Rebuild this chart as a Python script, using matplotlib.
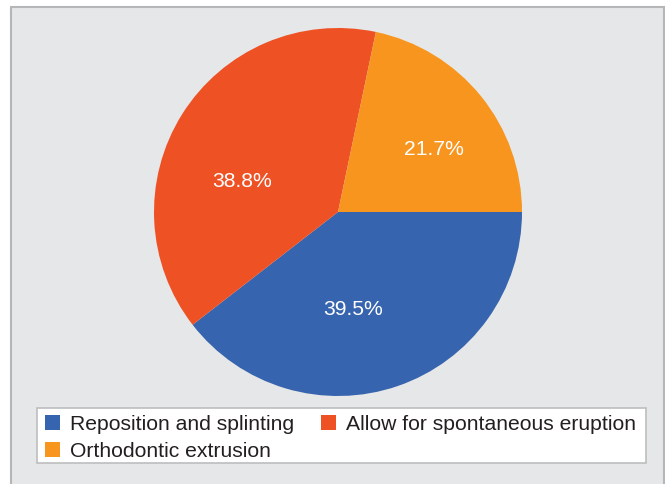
import matplotlib
matplotlib.use("Agg")
import matplotlib.pyplot as plt
from matplotlib.patches import Rectangle, Patch

# Treatment shares (%)
categories = ["Reposition and splinting", "Allow for spontaneous eruption", "Orthodontic extrusion"]
shares = [39.5, 38.8, 21.7]
colors = ["#3764AE", "#EE5124", "#F7951F"]

# label anchors in units of the pie radius
label_xy = [(0.08, -0.53), (-0.52, 0.165), (0.52, 0.34)]

plt.rcParams["font.family"] = ["Liberation Sans", "DejaVu Sans"]

W, H = 665, 484
fig = plt.figure(figsize=(W / 100, H / 100), dpi=100)
fig.patch.set_facecolor("white")

# grey panel with border
fig.patches.append(Rectangle((11 / W, -0.05), (664 - 11) / W, 1.05 - 7 / H,
                             transform=fig.transFigure, facecolor="#E6E7E8",
                             edgecolor="#B5B6B8", linewidth=1.5, zorder=-2))
# legend box
fig.patches.append(Rectangle((37 / W, 1 - 463 / H), (646 - 37) / W, (463 - 408) / H,
                             transform=fig.transFigure, facecolor="white",
                             edgecolor="#BCBEC0", linewidth=1.2, zorder=-1))

cx, cy, r = 338, 212, 184
ax = fig.add_axes([(cx - r) / W, (H - cy - r) / H, 2 * r / W, 2 * r / H])
ax.set_zorder(1)
ax.set_facecolor("none")
wedges, texts, autotexts = ax.pie(shares, colors=colors, startangle=0, counterclock=False,
                                  radius=1.0, autopct="%.1f%%", pctdistance=0.55,
                                  textprops=dict(color="white", fontsize=15.2))
for t, (x, y) in zip(autotexts, label_xy):
    t.set_position((x, y))
    t.set_ha("center")
    t.set_va("center")
ax.set_xlim(-1, 1)
ax.set_ylim(-1, 1)
ax.axis("off")

# legend: column-major order puts eruption in the second column
order = [0, 2, 1]
handles = [Patch(facecolor=colors[i], edgecolor="none") for i in order]
labels = [categories[i] for i in order]
leg = fig.legend(handles, labels, ncol=2, loc="upper left",
                 bbox_to_anchor=(45 / W, 1 - 415 / H), bbox_transform=fig.transFigure,
                 frameon=False, fontsize=15.2, handlelength=0.72,
                 handleheight=0.72, handletextpad=0.45, columnspacing=1.3,
                 labelspacing=0.38, borderpad=0, borderaxespad=0)
leg.set_zorder(2)
for t in leg.get_texts():
    t.set_color("#231F20")

fig.savefig("out.png", dpi=100, facecolor=fig.get_facecolor())
